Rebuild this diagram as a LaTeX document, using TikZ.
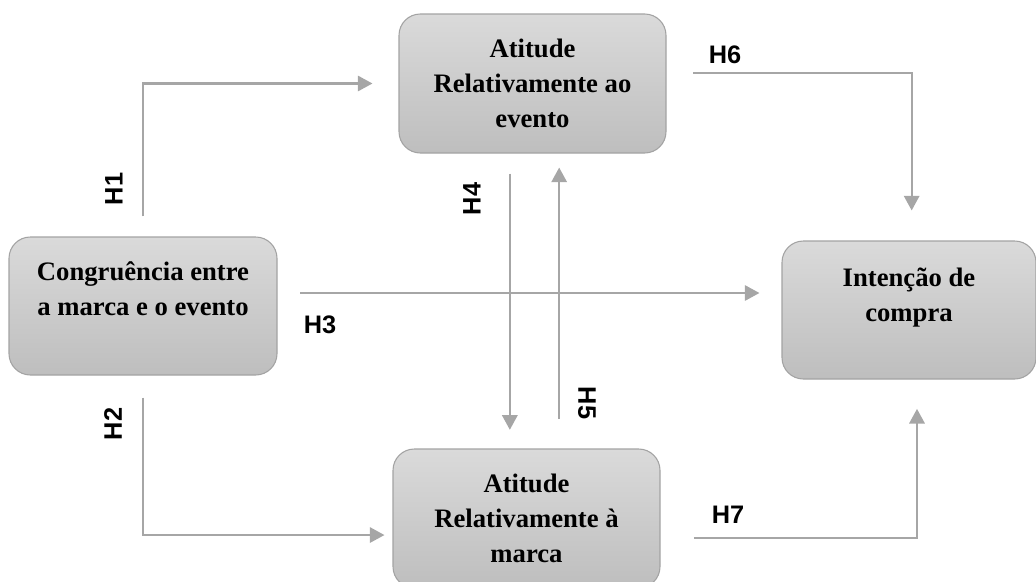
\documentclass[tikz,border=0pt]{standalone}
\usepackage{fontspec}
\setmainfont{Liberation Serif}
\newfontfamily\hfont{Liberation Sans}
\usepackage{tikz}
\usetikzlibrary{arrows.meta}
\usetikzlibrary{calc}
\definecolor{boxtop}{HTML}{DADADA}
\definecolor{boxbot}{HTML}{BEBEBE}
\definecolor{boxline}{HTML}{A3A3A3}
\definecolor{linkgray}{HTML}{A6A6A6}

\begin{document}
\begin{tikzpicture}[
            x = 0.75pt, y = -0.75pt, % pixel grid, y going down
            > = {Triangle[length=11pt, width=11.5pt]}, % arrow head style
            link/.style = {draw = linkgray, line width = 1.7pt, ->},
            semithick
        ]

        \tikzstyle{construct}=[
            draw = boxline,
            line width = 0.8pt,
            top color = boxtop,
            bottom color = boxbot,
            rounded corners = 16pt,
            align = center,
            inner sep = 0pt,
            font = \fontsize{20}{26}\selectfont\bfseries
        ]
        \tikzstyle{hyp}=[
            inner sep = 0pt,
            font = \hfont\fontsize{19}{22}\selectfont\bfseries
        ]

        \useasboundingbox (0,0) rectangle (1036,582);

        % constructs
        \node[construct, minimum width=201pt, minimum height=103.5pt] (Cong) at (143,306) {Congruência entre\\a marca e o evento\\\mbox{}};
        \node[construct, minimum width=200.25pt, minimum height=104.25pt] (Evento) at (532.5,83.5) {Atitude\\Relativamente ao\\evento};
        \node[construct, minimum width=200.25pt, minimum height=104.25pt] (Marca) at (526.5,518.5) {Atitude\\Relativamente à\\marca};
        \node[construct, minimum width=190.5pt, minimum height=103.5pt] (Intencao) at (909,310) {Intenção de\\compra\\[-3.5pt]\mbox{}};

        % hypotheses
        \draw[link, shorten <=15pt, shorten >=19.5pt] (Cong.north) |- (Evento.west);
        \draw[link, shorten <=16.5pt, shorten >=6pt] (Cong.south) |- ([yshift=-12.4pt]Marca.west);
        \draw[link, shorten <=17pt, shorten >=16.5pt] ([yshift=9.75pt]Cong.east) -- ([yshift=9.75pt]Cong.east -| Intencao.west);
        \draw[link, shorten <=15pt, shorten >=14pt] ([xshift=-17pt]Evento.south) -- ([xshift=-17pt]Evento.south |- Marca.north);
        \draw[link, shorten <=22pt, shorten >=10.5pt] ([xshift=20pt]Evento.south |- Marca.north) -- ([xshift=20pt]Evento.south);
        \draw[link, shorten <=20pt, shorten >=22.5pt] ([yshift=8pt]Evento.east) -| ([xshift=2pt]Intencao.north);
        \draw[link, shorten <=25pt, shorten >=22pt] ([yshift=-14.6pt]Marca.east) -| ([xshift=6pt]Intencao.south);

        % labels
        \node[hyp, rotate=90] (lH1) at (114,189) {H1};
        \node[hyp, rotate=90] (lH2) at (113,424) {H2};
        \node[hyp] (lH3) at (320,325) {H3};
        \node[hyp, rotate=90] (lH4) at (472,199) {H4};
        \node[hyp, rotate=-90] (lH5) at (587,403) {H5};
        \node[hyp] (lH6) at (725,55) {H6};
        \node[hyp] (lH7) at (728,515) {H7};

\end{tikzpicture}
\end{document}
